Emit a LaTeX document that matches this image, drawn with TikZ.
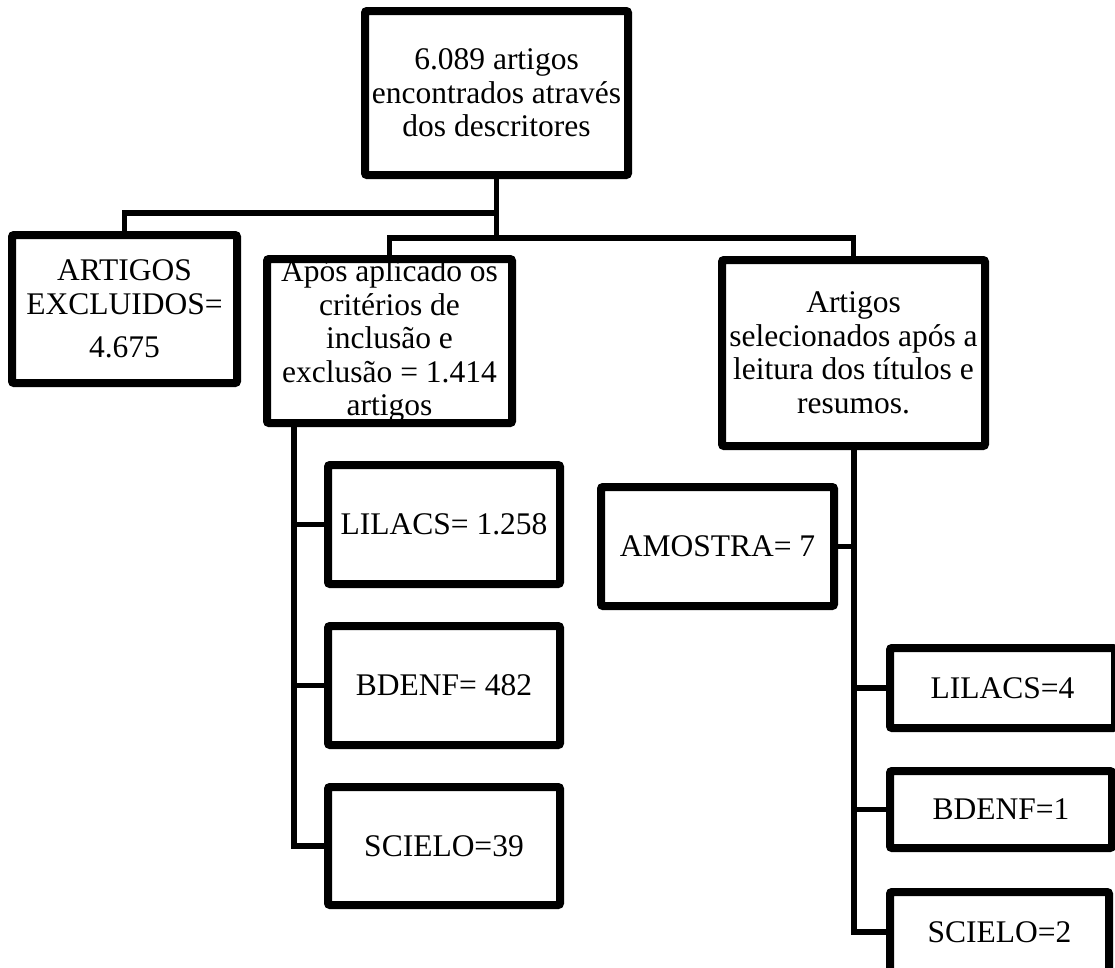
\documentclass[tikz,border=0pt]{standalone}
\usepackage{fontspec}
\setmainfont{Liberation Serif}
\usetikzlibrary{shadows}
\begin{document}
\begin{tikzpicture}[x=1pt,y=-1pt,
  box/.style={draw=black,line width=8pt,fill=white,rounded corners=2pt,inner sep=0pt,
    drop shadow={shadow xshift=2pt,shadow yshift=-3pt,fill=black,opacity=0.22}},
  txt/.style={inner sep=0pt,align=center,font=\fontsize{31.5}{33.5}\selectfont},
  conn/.style={draw=black,line width=5.5pt}]
\useasboundingbox (0,0) rectangle (1115,967);
\clip (0,0) rectangle (1115,967);
% boxes (drawn first as nodes, connectors drawn behind via layers order below)
\begin{scope}
% connector junctions
\coordinate (j1) at (496.5,213);
\coordinate (j2) at (496.5,238);
\coordinate (aposfoot) at (294,423);
\coordinate (artfoot) at (854,446);
\end{scope}
% nodes positioned first (invisible pass for names)
\path
  node[box,minimum width=255,minimum height=156] (top) at (496.5,93) {}
  node[box,minimum width=217,minimum height=140] (excl) at (124.5,309) {}
  node[box,minimum width=237,minimum height=156] (apos) at (389.5,341) {}
  node[box,minimum width=255,minimum height=178] (art) at (853.5,353) {}
  node[box,minimum width=224,minimum height=111] (l1258) at (444,524.5) {}
  node[box,minimum width=224,minimum height=111] (b482) at (444,685.5) {}
  node[box,minimum width=224,minimum height=110] (s39) at (444,846) {}
  node[box,minimum width=225,minimum height=111] (amo) at (717.5,546.5) {}
  node[box,minimum width=217,minimum height=72] (l4) at (1002.5,688) {}
  node[box,minimum width=214,minimum height=69] (b1) at (1001,809.5) {}
  node[box,minimum width=211,minimum height=72] (s2) at (999.5,932) {};
% connectors
\draw[conn] (top.south) -- (j2);
\draw[conn] (j1) -| (excl.north);
\draw[conn] (apos.north) |- (art.north |- j2) -- (art.north);
\draw[conn] (aposfoot) |- (s39.west);
\draw[conn] (aposfoot |- l1258.west) -- (l1258.west);
\draw[conn] (aposfoot |- b482.west) -- (b482.west);
\draw[conn] (artfoot) |- (s2.west);
\draw[conn] (artfoot |- amo.east) -- (amo.east);
\draw[conn] (artfoot |- l4.west) -- (l4.west);
\draw[conn] (artfoot |- b1.west) -- (b1.west);
% redraw boxes on top of connectors
\foreach \n in {top,excl,apos,art,l1258,b482,s39,amo,l4,b1,s2}{
  \draw[line width=8pt,rounded corners=2pt,fill=white] (\n.south west) rectangle (\n.north east);
}
% texts
\node[txt] (topT) at (top.center) {6.089 artigos\\encontrados através\\dos descritores};
\node[txt] (exclT) at (excl.center) {ARTIGOS\\EXCLUIDOS=\\[10pt]4.675};
\node[txt] (aposT) at (apos.center) {Após aplicado os\\critérios de\\inclusão e\\exclusão = 1.414\\artigos};
\node[txt] (artT) at (art.center) {Artigos\\selecionados após a\\leitura dos títulos e\\resumos.};
\node[txt] (l1258T) at (l1258.center) {LILACS= 1.258};
\node[txt] (b482T) at (b482.center) {BDENF= 482};
\node[txt] (s39T) at (s39.center) {SCIELO=39};
\node[txt] (amoT) at (amo.center) {AMOSTRA= 7};
\node[txt] (l4T) at (l4.center) {LILACS=4};
\node[txt] (b1T) at (b1.center) {BDENF=1};
\node[txt] (s2T) at (s2.center) {SCIELO=2};
\end{tikzpicture}
\end{document}
